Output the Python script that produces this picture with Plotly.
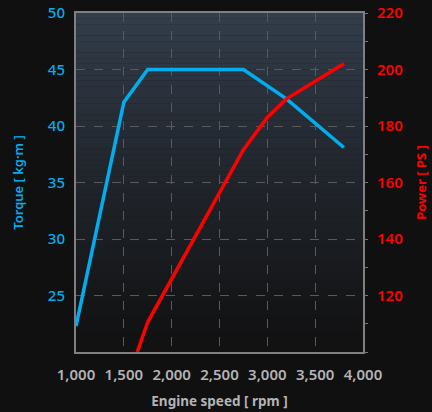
import plotly.graph_objects as go

# ---- data ----
rpm_torque = [1000, 1500, 1750, 2750, 3200, 3800]
torque = [22.3, 42.1, 45.0, 45.0, 42.4, 38.1]

rpm_power = [1640, 1750, 2750, 3000, 3200, 3800]
power = [100.0, 110.6, 171.6, 183.0, 189.6, 202.0]

x_ticks = [1000, 1500, 2000, 2500, 3000, 3500, 4000]
x_ticklabels = ["1,000", "1,500", "2,000", "2,500", "3,000", "3,500", "4,000"]
torque_ticks = [25, 30, 35, 40, 45, 50]
power_ticks = [120, 140, 160, 180, 200, 220]

BLUE = "#00aeef"
RED = "#ff0000"
GRAY = "#b4b4b4"
FONT = "Noto Sans"

fig = go.Figure()
fig.add_trace(go.Scatter(x=rpm_torque, y=torque, mode="lines",
                         line=dict(color=BLUE, width=3.5), yaxis="y", showlegend=False))
fig.add_trace(go.Scatter(x=rpm_power, y=power, mode="lines",
                         line=dict(color=RED, width=3.5), yaxis="y2", showlegend=False))

# vertical gradient background in plot area
def lerp(a, b, t):
    return int(round(a + (b - a) * t))

top = (0x33, 0x3d, 0x4b)
bot = (0x12, 0x12, 0x13)
n = 60
shapes = []
for i in range(n):
    t = i / (n - 1)
    tt = min(1.0, t ** 0.9 * 1.05)
    c = tuple(lerp(top[k], bot[k], tt) for k in range(3))
    shapes.append(dict(type="rect", xref="x domain", yref="y domain",
                       x0=0, x1=1, y0=1 - (i + 1) / n, y1=1 - i / n,
                       fillcolor="rgb(%d,%d,%d)" % c, line=dict(width=0), layer="below"))

fig.update_layout(
    width=432, height=412,
    margin=dict(l=76, r=69, t=13, b=60, autoexpand=False),
    paper_bgcolor="#101010",
    plot_bgcolor="#1a1d22",
    shapes=shapes,
    xaxis=dict(range=[1000, 4000], tickvals=x_ticks, ticktext=x_ticklabels,
               automargin=False,
               showgrid=True, gridcolor="#5a5a5a", griddash="dash", gridwidth=1,
               showline=True, linecolor="#808080", linewidth=2, mirror=True,
               zeroline=False, ticks="", ticklabelstandoff=8,
               tickfont=dict(family=FONT, size=15, color=GRAY, weight=600),
               title=dict(text="Engine speed [ rpm ]", standoff=14,
                          font=dict(family=FONT, size=13.5, color=GRAY, weight=700))),
    yaxis=dict(range=[20, 50], tickvals=torque_ticks,
               automargin=False,
               showgrid=True, gridcolor="#5a5a5a", griddash="dash", gridwidth=1,
               showline=True, linecolor="#808080", linewidth=2, mirror=True,
               zeroline=False, ticks="", ticklabelstandoff=6,
               tickfont=dict(family=FONT, size=15, color=BLUE, weight=500),
               title=dict(text="Torque [ kg·m ]", standoff=21,
                          font=dict(family=FONT, size=13, color=BLUE, weight=600))),
    yaxis2=dict(range=[100, 220], tickvals=power_ticks, overlaying="y", side="right",
                automargin=False,
                showgrid=False, zeroline=False,
                ticks="outside", ticklen=4, tickcolor="#777777",
                minor=dict(dtick=10, tick0=100, ticks="outside", ticklen=4, tickcolor="#777777"),
                ticklabelstandoff=6,
                tickfont=dict(family=FONT, size=15, color=RED, weight=600),
                title=dict(text="Power [ PS ]", standoff=15,
                           font=dict(family=FONT, size=13, color=RED, weight=700))),
)

fig.write_html("out.html", config={"displayModeBar": False},
               post_script="document.body.style.margin='0';document.body.style.overflow='hidden';")
